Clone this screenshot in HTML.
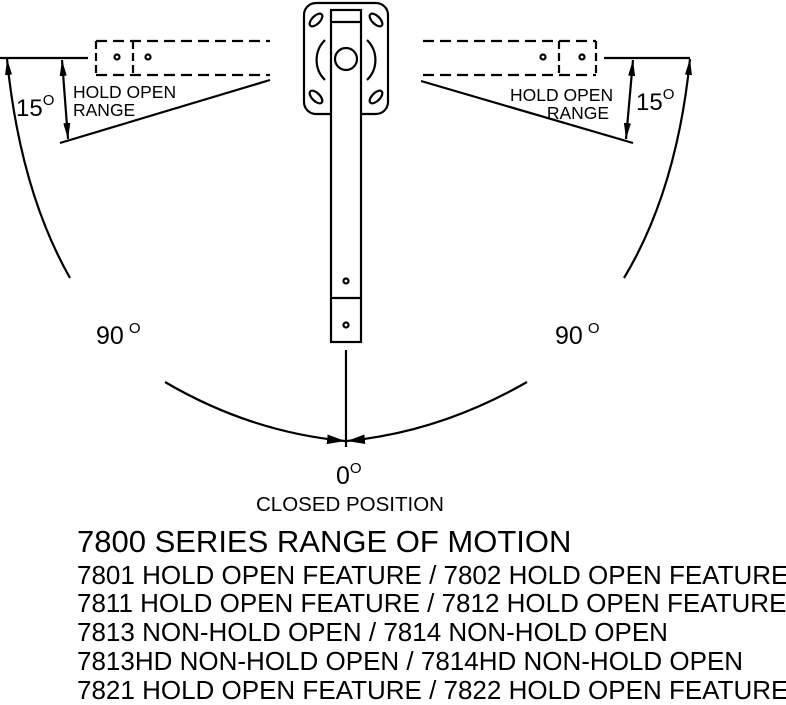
<!DOCTYPE html>
<html><head><style>
body{margin:0;background:#fff;width:786px;height:700px;overflow:hidden;font-family:"Liberation Sans",Arial,sans-serif}
.t{position:absolute;left:77px;font-size:26px;color:#000;white-space:nowrap;line-height:1}
sup{font-size:15px;vertical-align:11px}
</style></head><body>
<svg width="786" height="700" style="position:absolute;left:0;top:0" fill="none" stroke="#000" stroke-width="2.2">
<defs><marker id="a" viewBox="0 0 10 10" refX="10" refY="5" markerWidth="16" markerHeight="16" orient="auto-start-reverse" markerUnits="userSpaceOnUse" preserveAspectRatio="none"><path d="M0,2.8L10,5L0,7.2z" fill="#000" stroke="none"/></marker>
<marker id="b" viewBox="0 0 10 10" refX="10" refY="5" markerWidth="18" markerHeight="12" orient="auto" markerUnits="userSpaceOnUse" preserveAspectRatio="none"><path d="M0,1L10,5L0,9z" fill="#000" stroke="none"/></marker></defs>
<!-- base plate -->
<rect x="304" y="3" width="84" height="111" rx="12"/>
<path d="M325,40 A28,28 0 0 0 325,80"/><path d="M367,40 A28,28 0 0 1 367,80"/>
<g stroke-width="2.2"><ellipse cx="316" cy="20" rx="8" ry="4" transform="rotate(-45 316 20)"/><ellipse cx="376" cy="20" rx="8" ry="4" transform="rotate(45 376 20)"/><ellipse cx="316" cy="97" rx="8" ry="4" transform="rotate(45 316 97)"/><ellipse cx="376" cy="97" rx="8" ry="4" transform="rotate(-45 376 97)"/></g>
<!-- arm -->
<rect x="331" y="10" width="30" height="332" fill="#fff"/>
<line x1="331" y1="22" x2="361" y2="22"/>
<line x1="331" y1="298" x2="361" y2="298"/>
<circle cx="346" cy="59" r="11" fill="#fff"/>
<circle cx="346" cy="281" r="2.5"/><circle cx="346" cy="325" r="2.5"/>
<line x1="346" y1="350" x2="346" y2="447"/>
<!-- left dashed -->
<g stroke-dasharray="11,6"><line x1="96" y1="41" x2="270" y2="41"/><line x1="96" y1="75" x2="270" y2="75"/></g>
<path d="M96,41V75M133,41V75" stroke-dasharray="8,4"/>
<circle cx="117" cy="57" r="2.5"/><circle cx="148" cy="57" r="2.5"/>
<!-- right dashed -->
<g stroke-dasharray="11,6"><line x1="423" y1="41" x2="596" y2="41"/><line x1="423" y1="75" x2="596" y2="75"/></g>
<path d="M596,41V75M559,41V75" stroke-dasharray="8,4"/>
<circle cx="543" cy="57" r="2.5"/><circle cx="582" cy="57" r="2.5"/>
<!-- left lines -->
<line x1="0" y1="58" x2="88" y2="58"/>
<line x1="60" y1="143" x2="270" y2="80"/>
<path d="M62,60 L68,139" marker-start="url(#a)" marker-end="url(#a)"/>
<path d="M7,59 Q20,190 70,278" marker-start="url(#a)"/>
<!-- right lines -->
<line x1="604" y1="58" x2="690" y2="58"/>
<line x1="421" y1="81" x2="633" y2="143"/>
<path d="M633,60 L626,139" marker-start="url(#a)" marker-end="url(#a)"/>
<path d="M690,59 Q677,190 624,278" marker-start="url(#a)"/>
<!-- bottom arc -->
<path d="M165,382 Q250,432 345,441" marker-end="url(#b)"/>
<path d="M527,382 Q440,432 347,441" marker-end="url(#b)"/>
</svg>
<div style="position:absolute;left:16px;top:92px;font-size:24px">15<sup>O</sup></div>
<div style="position:absolute;left:636px;top:86px;font-size:24px">15<sup>O</sup></div>
<div style="position:absolute;left:73px;top:83px;font-size:17.5px;line-height:18px">HOLD OPEN<br>RANGE</div>
<div style="position:absolute;left:510px;top:86px;font-size:17.5px;line-height:18px;text-align:right">HOLD OPEN<br><span style="padding-right:4px">RANGE</span></div>
<div style="position:absolute;left:96px;top:320px;font-size:25px">90<sup style="margin-left:5px">O</sup></div>
<div style="position:absolute;left:555px;top:320px;font-size:25px">90<sup style="margin-left:5px">O</sup></div>
<div style="position:absolute;left:336px;top:460px;font-size:25px">0<sup>O</sup></div>
<div style="position:absolute;left:256px;top:493px;font-size:20.5px">CLOSED POSITION</div>
<div class="t" style="top:526px;font-size:31px">7800 SERIES RANGE OF MOTION</div>
<div class="t" style="top:562px">7801 HOLD OPEN FEATURE / 7802 HOLD OPEN FEATURE</div>
<div class="t" style="top:590px">7811 HOLD OPEN FEATURE / 7812 HOLD OPEN FEATURE</div>
<div class="t" style="top:619px">7813 NON-HOLD OPEN / 7814 NON-HOLD OPEN</div>
<div class="t" style="top:648px">7813HD NON-HOLD OPEN / 7814HD NON-HOLD OPEN</div>
<div class="t" style="top:677px">7821 HOLD OPEN FEATURE / 7822 HOLD OPEN FEATURE</div>
</body></html>
